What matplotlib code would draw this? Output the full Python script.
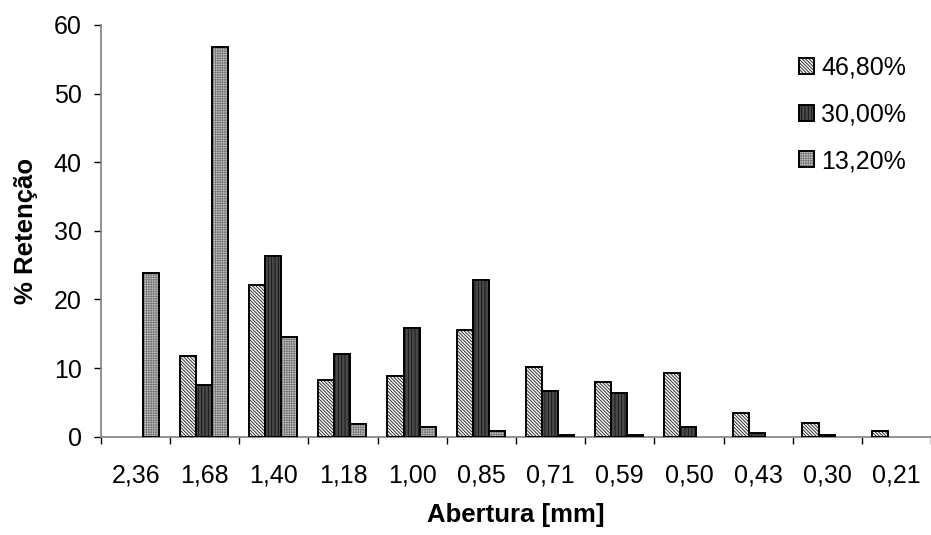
import numpy as np
import matplotlib.pyplot as plt

plt.rcParams["font.family"] = ["Liberation Sans", "DejaVu Sans"]
plt.rcParams["hatch.linewidth"] = 0.6

# ── Data ────────────────────────────────────────────────────────────
aberturas = ["2,36", "1,68", "1,40", "1,18", "1,00", "0,85",
             "0,71", "0,59", "0,50", "0,43", "0,30", "0,21"]
ret_4680 = [0, 11.7, 22.1, 8.2, 8.8, 15.5, 10.2, 7.9, 9.3, 3.5, 2.0, 0.9]
ret_3000 = [0, 7.6, 26.3, 12.0, 15.8, 22.8, 6.7, 6.4, 1.45, 0.6, 0.3, 0]
ret_1320 = [23.9, 56.8, 14.6, 1.8, 1.45, 0.85, 0.3, 0.3, 0, 0, 0, 0]
series_names = ["46,80%", "30,00%", "13,20%"]

# ── Styles ──────────────────────────────────────────────────────────
faces = ["#f4f4f4", "#4a4a4a", "#c4c4c4"]
hatch_cols = ["#202020", "#111111", "#7a7a7a"]
hatches = ["\\" * 10, "|" * 5, "+" * 7]

fig = plt.figure(figsize=(9.31, 5.35), dpi=100)
ax = fig.add_axes([101 / 931, 98.3 / 535, 830 / 931, 411.7 / 535])

x = np.arange(len(aberturas))
w = 0.232
handles = []
for k, vals in enumerate([ret_4680, ret_3000, ret_1320]):
    pos = x + (k - 1) * w - 0.01
    vals = np.array(vals, dtype=float)
    m = vals > 0
    b1 = ax.bar(pos[m], vals[m], w, color=faces[k], edgecolor=hatch_cols[k],
                hatch=hatches[k], linewidth=0, zorder=2)
    b2 = ax.bar(pos[m], vals[m], w, fill=False, edgecolor="black",
                linewidth=1.4, zorder=3)
    handles.append((b1, b2))

# ── Axes formatting ─────────────────────────────────────────────────
ax.set_xlim(-0.5, 11.385)
ax.set_ylim(0, 60)
ax.set_yticks(range(0, 61, 10))
ax.set_xticks(x)
ax.set_xticklabels(aberturas)
ax.set_xticks(np.arange(-0.5, 12, 1), minor=True)
ax.tick_params(axis="x", which="major", length=0, pad=19, labelsize=18)
ax.tick_params(axis="x", which="minor", length=5, width=1, color="black",
               direction="out")
ax.tick_params(axis="y", length=5, width=1, color="black", pad=9, labelsize=18)

for s in ["top", "right"]:
    ax.spines[s].set_visible(False)
for s in ["left", "bottom"]:
    ax.spines[s].set_color("#808080")
    ax.spines[s].set_linewidth(1.2)

ax.set_ylabel("% Retenção", fontsize=18.5, fontweight="bold")
ax.yaxis.set_label_coords(-0.076, 0.5)
ax.set_xlabel("Abertura [mm]", fontsize=18.5, fontweight="bold")
ax.xaxis.set_label_coords(0.5, -0.161)

ax.legend(handles, series_names, loc="upper left",
          bbox_to_anchor=(799 / 931, 1 - 56 / 535),
          bbox_transform=fig.transFigure, frameon=False, fontsize=18,
          handlelength=0.6, handleheight=0.6, handletextpad=0.3,
          labelspacing=0.9, borderpad=0, borderaxespad=0)

plt.savefig("out.png", dpi=100)
